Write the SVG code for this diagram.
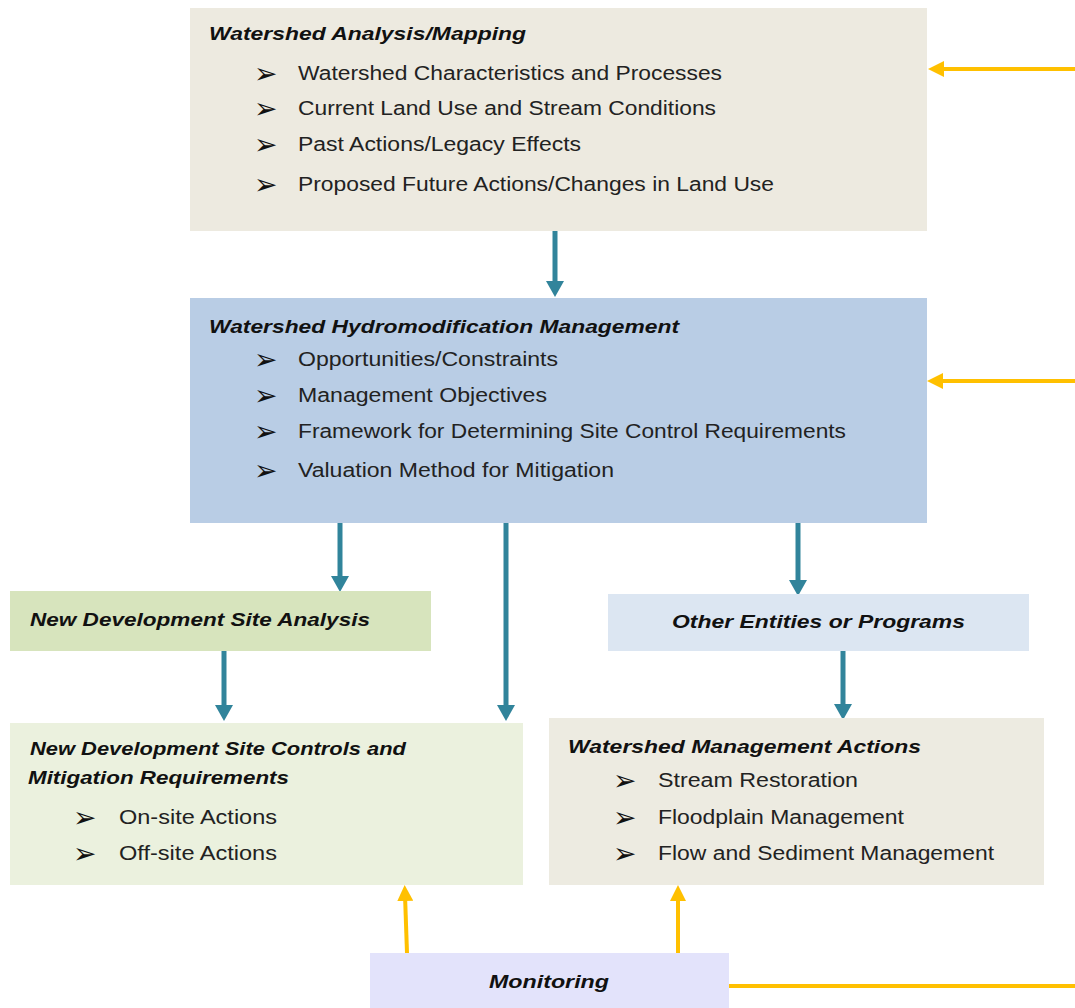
<svg xmlns="http://www.w3.org/2000/svg" width="1075" height="1008" viewBox="0 0 1075 1008">
<defs>
<marker id="tealHead" viewBox="0 0 16 18" refX="6" refY="9" markerWidth="16" markerHeight="18" markerUnits="userSpaceOnUse" orient="auto">
<path d="M0,0 L16,9 L0,18 z" fill="#31849B"/>
</marker>
<marker id="goldHead" viewBox="0 0 16 16" refX="6" refY="8" markerWidth="16" markerHeight="16" markerUnits="userSpaceOnUse" orient="auto">
<path d="M0,0 L16,8 L0,16 z" fill="#FFC000"/>
</marker>
<style>
.title{font-family:"Liberation Sans",Arial,sans-serif;font-size:19px;font-weight:bold;font-style:italic;fill:#111}
.item{font-family:"Liberation Sans",Arial,sans-serif;font-size:20px;fill:#222}
.bul{font-family:"DejaVu Sans",sans-serif;font-size:28px;fill:#111}
.teal{stroke:#31849B;stroke-width:5;fill:none;marker-end:url(#tealHead)}
.gold{stroke:#FFC000;stroke-width:4;fill:none}
.goldA{stroke:#FFC000;stroke-width:4;fill:none;marker-end:url(#goldHead)}
</style>
</defs>
<rect width="1075" height="1008" fill="#FFFFFF"/>

<g id="connectors">
<line class="teal" x1="555" y1="231" x2="555" y2="287"/>
<line class="teal" x1="340" y1="523" x2="340" y2="582"/>
<line class="teal" x1="506" y1="521" x2="506" y2="711"/>
<line class="teal" x1="798" y1="523" x2="798" y2="586"/>
<line class="teal" x1="224" y1="651" x2="224" y2="711"/>
<line class="teal" x1="843" y1="651" x2="843" y2="710"/>
<line class="goldA" x1="1075" y1="69" x2="938" y2="69"/>
<line class="goldA" x1="1075" y1="381" x2="937" y2="381"/>
<line class="goldA" x1="407" y1="953" x2="405" y2="895"/>
<line class="goldA" x1="678" y1="953" x2="678" y2="895"/>
<line class="gold" x1="727" y1="986" x2="1075" y2="986"/>
</g>

<g id="watershed-analysis">
<rect x="190" y="8" width="737" height="223" fill="#EDEAE0"/>
<text class="title" x="209" y="40" textLength="317" lengthAdjust="spacingAndGlyphs">Watershed Analysis/Mapping</text>
<text class="bul" x="254" y="83">➢</text>
<text class="item" x="298" y="80" textLength="424" lengthAdjust="spacingAndGlyphs">Watershed Characteristics and Processes</text>
<text class="bul" x="254" y="118">➢</text>
<text class="item" x="298" y="115" textLength="418" lengthAdjust="spacingAndGlyphs">Current Land Use and Stream Conditions</text>
<text class="bul" x="254" y="154">➢</text>
<text class="item" x="298" y="151" textLength="283" lengthAdjust="spacingAndGlyphs">Past Actions/Legacy Effects</text>
<text class="bul" x="254" y="194">➢</text>
<text class="item" x="298" y="191" textLength="476" lengthAdjust="spacingAndGlyphs">Proposed Future Actions/Changes in Land Use</text>
</g>

<g id="hydromodification">
<rect x="190" y="298" width="737" height="225" fill="#B9CDE5"/>
<text class="title" x="209" y="333" textLength="470" lengthAdjust="spacingAndGlyphs">Watershed Hydromodification Management</text>
<text class="bul" x="254" y="369">➢</text>
<text class="item" x="298" y="366" textLength="260" lengthAdjust="spacingAndGlyphs">Opportunities/Constraints</text>
<text class="bul" x="254" y="405">➢</text>
<text class="item" x="298" y="402" textLength="249" lengthAdjust="spacingAndGlyphs">Management Objectives</text>
<text class="bul" x="254" y="441">➢</text>
<text class="item" x="298" y="438" textLength="548" lengthAdjust="spacingAndGlyphs">Framework for Determining Site Control Requirements</text>
<text class="bul" x="254" y="480">➢</text>
<text class="item" x="298" y="477" textLength="316" lengthAdjust="spacingAndGlyphs">Valuation Method for Mitigation</text>
</g>

<g id="site-analysis">
<rect x="10" y="591" width="421" height="60" fill="#D7E4BD"/>
<text class="title" x="30" y="626" textLength="340" lengthAdjust="spacingAndGlyphs">New Development Site Analysis</text>
</g>

<g id="other-entities">
<rect x="608" y="594" width="421" height="57" fill="#DCE6F2"/>
<text class="title" x="672" y="628" textLength="293" lengthAdjust="spacingAndGlyphs">Other Entities or Programs</text>
</g>

<g id="site-controls">
<rect x="10" y="723" width="513" height="162" fill="#EBF1DE"/>
<text class="title" x="30" y="755" textLength="376" lengthAdjust="spacingAndGlyphs">New Development Site Controls and</text>
<text class="title" x="28" y="784" textLength="261" lengthAdjust="spacingAndGlyphs">Mitigation Requirements</text>
<text class="bul" x="73" y="827">➢</text>
<text class="item" x="119" y="824" textLength="158" lengthAdjust="spacingAndGlyphs">On-site Actions</text>
<text class="bul" x="73" y="863">➢</text>
<text class="item" x="119" y="860" textLength="158" lengthAdjust="spacingAndGlyphs">Off-site Actions</text>
</g>

<g id="management-actions">
<rect x="549" y="718" width="495" height="167" fill="#EDEBE1"/>
<text class="title" x="568" y="753" textLength="353" lengthAdjust="spacingAndGlyphs">Watershed Management Actions</text>
<text class="bul" x="613" y="790">➢</text>
<text class="item" x="658" y="787" textLength="200" lengthAdjust="spacingAndGlyphs">Stream Restoration</text>
<text class="bul" x="613" y="827">➢</text>
<text class="item" x="658" y="824" textLength="246" lengthAdjust="spacingAndGlyphs">Floodplain Management</text>
<text class="bul" x="613" y="863">➢</text>
<text class="item" x="658" y="860" textLength="336" lengthAdjust="spacingAndGlyphs">Flow and Sediment Management</text>
</g>

<g id="monitoring">
<rect x="370" y="953" width="359" height="55" fill="#E3E3FB"/>
<text class="title" x="489" y="988" textLength="120" lengthAdjust="spacingAndGlyphs">Monitoring</text>
</g>
</svg>
